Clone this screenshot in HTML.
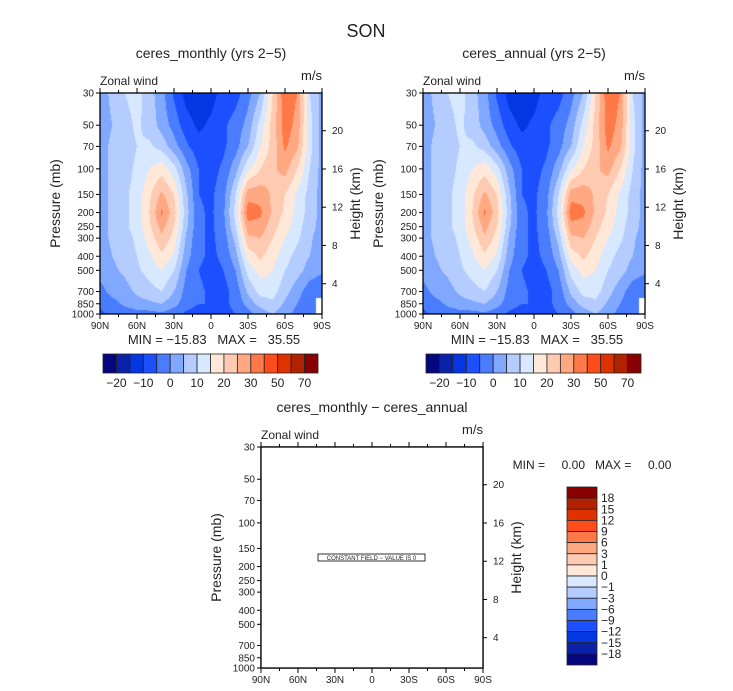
<!DOCTYPE html>
<html><head><meta charset="utf-8">
<style>
html,body{margin:0;padding:0;background:#fff;}
#wrap{position:relative;width:733px;height:691px;overflow:hidden;font-family:"Liberation Sans",sans-serif;}
canvas{position:absolute;}
svg{position:absolute;left:0;top:0;}
text{font-family:"Liberation Sans",sans-serif;fill:#222;white-space:pre;}
</style></head>
<body>
<div id="wrap">
<canvas id="c1" width="222" height="221" style="left:100px;top:93px"></canvas>
<canvas id="c2" width="222" height="221" style="left:423px;top:93px"></canvas>
<svg id="svg" width="733" height="691"></svg>
</div>
<script>
// ---- data ----
const lats = [90,80,70,60,50,40,30,20,10,0,-10,-20,-30,-40,-50,-60,-70,-80,-90];
const levels = [30,50,70,100,150,200,250,300,400,500,700,850,1000];
const u30  = [3,6,10,12,7,2,-6,-12,-13,-12,-8,-7,-2,5,20,34,30,10,3];
const u50  = [3,5,8,11,8,3,-2,-8,-11,-9,-6,-3,2,12,22,33,28,12,3];
const u70  = [3,6,8,10,11,8,2,-4,-8,-9,-6,-2,5,15,22,31,26,12,3];
const u100 = [3,6,8,11,15,18,12,2,-5,-7,-4,3,14,20,24,27,20,10,3];
const u150 = [3,6,9,12,19,26,20,6,-5,-6,-2,10,28,28,24,20,14,8,3];
const u200 = [3,6,9,12,20,31,22,7,-4,-6,-1,12,33,31,24,19,13,8,3];
const u250 = [3,6,9,12,19,27,20,6,-4,-6,-2,10,28,28,22,17,12,7,3];
const u300 = [3,6,8,11,17,24,18,4,-4,-6,-3,7,24,25,20,15,11,6,2];
const u400 = [2,5,7,10,14,19,14,2,-4,-6,-4,3,17,21,17,12,8,5,2];
const u500 = [2,4,6,9,12,15,10,0,-5,-7,-5,0,12,17,15,10,7,3,1];
const u700 = [-2,2,3,6,8,10,5,-2,-4,-6,-7,-3,6,12,12,7,2,-3,-5];
const u850 = [-4,-2,1,3,4,5,2,-3,-5,-5,-6,-4,2,7,9,4,0,-4,null];
const u1000= [-6,-4,-3,-2,-2,-1,-3,-6,-7,-6,-6,-5,-2,2,5,2,-2,-5,null];
const field = [u30,u50,u70,u100,u150,u200,u250,u300,u400,u500,u700,u850,u1000];
const bounds = [-20,-15,-10,-5,0,5,10,15,20,25,30,40,50,60,70];
const cbLabels = ["-20","-10","0","10","20","30","50","70"];
const diffLabels = ["18","15","12","9","6","3","1","0","-1","-3","-6","-9","-12","-15","-18"];
const pTicks = [30,50,70,100,150,200,250,300,400,500,700,850,1000];
const hTicks = [4,8,12,16,20];
const xTickLabels = ["90N","60N","30N","0","30S","60S","90S"];
const colors = ["#06067f","#0a22a8","#0436e2","#1c50ff","#4a7cff","#80a8ff","#b4ccff","#d8e8ff","#ffe8d8","#ffcab2","#ffa882","#ff7848","#ff4c1a","#e03200","#b22200","#880000"];

const NS="http://www.w3.org/2000/svg";
const svg=document.getElementById('svg');
function el(tag,attrs,parent){const e=document.createElementNS(NS,tag);for(const k in attrs)e.setAttribute(k,attrs[k]);(parent||svg).appendChild(e);return e;}
function txt(s,x,y,size,anchor,parent,rot){const t=el('text',{x:x,y:y,'font-size':size,'text-anchor':anchor||'middle'},parent);t.setAttributeNS('http://www.w3.org/XML/1998/namespace','xml:space','preserve');if(rot)t.setAttribute('transform','rotate(-90 '+x+' '+y+')');t.textContent=s.replace(/-/g,'\u2212');return t;}

const W=222,H=221;
const LP0=Math.log(30),LP1=Math.log(1000);
function yOfP(p){return (Math.log(p)-LP0)/(LP1-LP0)*H;}
function xOfLat(l){return (90-l)/180*W;}
function yOfH(h){return 190.7-(h-4)*9.56;}

function drawField(id){
  const cv=document.getElementById(id),ctx=cv.getContext('2d');
  const img=ctx.createImageData(W,H);
  const lv=levels.map(p=>Math.log(p));
  const rgb=colors.map(c=>[parseInt(c.substr(1,2),16),parseInt(c.substr(3,2),16),parseInt(c.substr(5,2),16)]);
  for(let py=0;py<H;py++){
    const lp=LP0+(py+0.5)/H*(LP1-LP0);
    let j=0;while(j<lv.length-2&&lp>lv[j+1])j++;
    const fy=Math.min(1,Math.max(0,(lp-lv[j])/(lv[j+1]-lv[j])));
    for(let px=0;px<W;px++){
      const lat=90-(px+0.5)/W*180;
      const fi=(lats[0]-lat)/(lats[0]-lats[1]);let i=Math.min(lats.length-2,Math.floor(fi));const fx=fi-i;
      const a=field[j][i],b=field[j][i+1],c=field[j+1][i],d=field[j+1][i+1];
      const near=field[fy<0.5?j:j+1][fx<0.5?i:i+1];
      let o=(py*W+px)*4;
      if(near===null){img.data[o]=255;img.data[o+1]=255;img.data[o+2]=255;img.data[o+3]=255;continue;}
      const q=[a,b,c,d].map(v=>v===null?near:v);
      const v=(q[0]*(1-fx)+q[1]*fx)*(1-fy)+(q[2]*(1-fx)+q[3]*fx)*fy;
      let k=0;while(k<bounds.length&&v>=bounds[k])k++;
      img.data[o]=rgb[k][0];img.data[o+1]=rgb[k][1];img.data[o+2]=rgb[k][2];img.data[o+3]=255;
    }
  }
  ctx.putImageData(img,0,0);
}
drawField('c1');drawField('c2');

function axes(ox,oy,title,name){
  const g=el('g',{transform:'translate('+ox+','+oy+')'});
  
  
  el('rect',{x:0,y:0,width:W,height:H,fill:'none',stroke:'#000','stroke-width':1.3},g);
  txt(title,W/2,-35,14,'middle',g);
  txt('Zonal wind',0,-8,12,'start',g);
  txt('m/s',W,-13,13,'end',g);
  for(let k=0;k<=12;k++){const x=k*W/12,len=k%2==0?5:3;
    el('line',{x1:x,y1:H,x2:x,y2:H+len,stroke:'#000'},g);
    el('line',{x1:x,y1:0,x2:x,y2:-len,stroke:'#000'},g);}
  xTickLabels.forEach((s,k)=>txt(s,k*W/6,H+15,10,'middle',g));
  pTicks.forEach(p=>{const y=yOfP(p);el('line',{x1:0,y1:y,x2:-4,y2:y,stroke:'#000'},g);txt(String(p),-6,y+3.5,10,'end',g);});
  hTicks.forEach(h=>{const y=yOfH(h);el('line',{x1:W,y1:y,x2:W+4,y2:y,stroke:'#000'},g);txt(String(h),W+10,y+3.5,10,'start',g);});
  txt('Pressure (mb)',-40,H/2,14,'middle',g,true);
  txt('Height (km)',W+38,H/2,14,'middle',g,true);
  return g;
}
txt('SON',366,37,18,'middle');
const g1=axes(100,93,'ceres_monthly (yrs 2-5)','panel-monthly');
const g2=axes(423,93,'ceres_annual (yrs 2-5)','panel-annual');
[g1,g2].forEach(g=>{txt('MIN = -15.83   MAX =   35.55',W/2+3,H+30,13,'middle',g);});

function hbar(ox,oy,name){
  const g=el('g',{transform:'translate('+ox+','+oy+')'});
  
  
  const bw=215/16;
  colors.forEach((c,k)=>el('rect',{x:k*bw,y:0,width:bw,height:19,fill:c,stroke:'#222','stroke-width':0.8},g));
  cbLabels.forEach((s,k)=>txt(s,(2*k+1)*bw,33,12,'middle',g));
}
hbar(103,354,'colorbar-monthly');hbar(426,354,'colorbar-annual');

// bottom panel
const g3=axes(261,447,'ceres_monthly - ceres_annual','panel-difference');
el('rect',{x:0,y:0,width:W,height:H,fill:'#fff',stroke:'#000','stroke-width':1.3},g3);
const cf=el('g',{},g3);


el('rect',{x:57,y:107,width:107,height:7,fill:'#fff',stroke:'#000','stroke-width':0.8},cf);
txt('CONSTANT FIELD - VALUE IS 0',110.5,113,6,'middle',cf);
txt('MIN =     0.00   MAX =     0.00',592,469,12,'middle');
const gb=el('g',{transform:'translate(567,487)'});


const bh=178/16;
colors.slice().reverse().forEach((c,k)=>el('rect',{x:0,y:k*bh,width:30,height:bh,fill:c,stroke:'#222','stroke-width':0.8},gb));
diffLabels.forEach((s,k)=>txt(s,34,(k+1)*bh+4,12,'start',gb));
</script>
</body></html>
